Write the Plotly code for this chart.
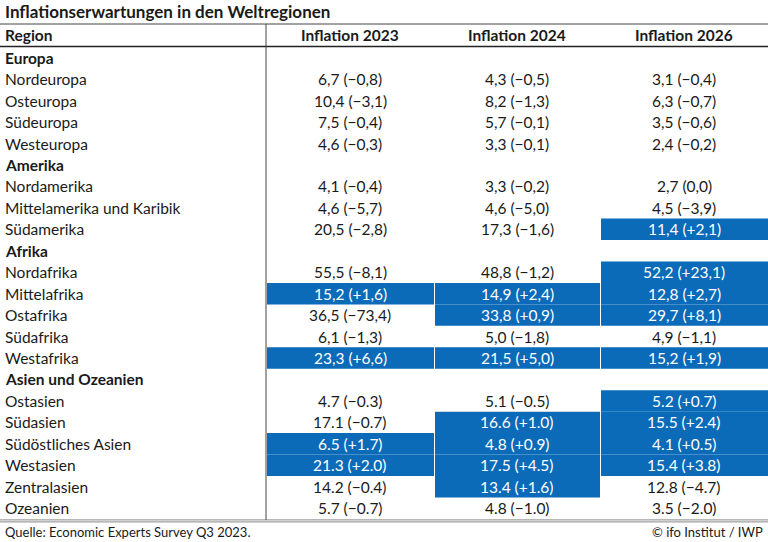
import plotly.graph_objects as go

title = "Inflationserwartungen in den Weltregionen"
header = ["Region", "Inflation 2023", "Inflation 2024", "Inflation 2026"]

regions = ["Europa", "Nordeuropa", "Osteuropa", "Südeuropa", "Westeuropa",
           "Amerika", "Nordamerika", "Mittelamerika und Karibik", "Südamerika",
           "Afrika", "Nordafrika", "Mittelafrika", "Ostafrika", "Südafrika", "Westafrika",
           "Asien und Ozeanien", "Ostasien", "Südasien", "Südöstliches Asien", "Westasien",
           "Zentralasien", "Ozeanien"]
groups = ["Europa", "Amerika", "Afrika", "Asien und Ozeanien"]

inf2023 = ["", "6,7 (−0,8)", "10,4 (−3,1)", "7,5 (−0,4)", "4,6 (−0,3)",
           "", "4,1 (−0,4)", "4,6 (−5,7)", "20,5 (−2,8)",
           "", "55,5 (−8,1)", "15,2 (+1,6)", "36,5 (−73,4)", "6,1 (−1,3)", "23,3 (+6,6)",
           "", "4.7 (−0.3)", "17.1 (−0.7)", "6.5 (+1.7)", "21.3 (+2.0)", "14.2 (−0.4)", "5.7 (−0.7)"]
inf2024 = ["", "4,3 (−0,5)", "8,2 (−1,3)", "5,7 (−0,1)", "3,3 (−0,1)",
           "", "3,3 (−0,2)", "4,6 (−5,0)", "17,3 (−1,6)",
           "", "48,8 (−1,2)", "14,9 (+2,4)", "33,8 (+0,9)", "5,0 (−1,8)", "21,5 (+5,0)",
           "", "5.1 (−0.5)", "16.6 (+1.0)", "4.8 (+0.9)", "17.5 (+4.5)", "13.4 (+1.6)", "4.8 (−1.0)"]
inf2026 = ["", "3,1 (−0,4)", "6,3 (−0,7)", "3,5 (−0,6)", "2,4 (−0,2)",
           "", "2,7 (0,0)", "4,5 (−3,9)", "11,4 (+2,1)",
           "", "52,2 (+23,1)", "12,8 (+2,7)", "29,7 (+8,1)", "4,9 (−1,1)", "15,2 (+1,9)",
           "", "5.2 (+0.7)", "15.5 (+2.4)", "4.1 (+0.5)", "15.4 (+3.8)", "12.8 (−4.7)", "3.5 (−2.0)"]
# highlighted cells (1 = blue)
hl2023 = [0, 0, 0, 0, 0, 0, 0, 0, 0, 0, 0, 1, 0, 0, 1, 0, 0, 0, 1, 1, 0, 0]
hl2024 = [0, 0, 0, 0, 0, 0, 0, 0, 0, 0, 0, 1, 1, 0, 1, 0, 0, 1, 1, 1, 1, 0]
hl2026 = [0, 0, 0, 0, 0, 0, 0, 0, 1, 0, 1, 1, 1, 0, 1, 0, 1, 1, 1, 1, 0, 0]

BLUE = "#0b6bb8"
FONT = "Lato"
TXT = "#1a1a1a"
col_edges = [0, 266, 434, 600, 768]
row_top, row_h = 47, 21.45

shapes, ann = [], []
for c, (vals, hl) in enumerate([(inf2023, hl2023), (inf2024, hl2024), (inf2026, hl2026)], start=1):
    x0, x1 = col_edges[c], col_edges[c + 1]
    xc = (x0 + x1) / 2
    for i, (v, h) in enumerate(zip(vals, hl)):
        y0 = row_top + i * row_h
        if h:
            shapes.append(dict(type="rect", xref="x", yref="y", x0=x0 + 1, x1=x1, y0=y0, y1=y0 + row_h,
                               fillcolor=BLUE, line_width=0, layer="below"))
        if v:
            ann.append(dict(x=xc, y=y0 + row_h / 2, text=v, showarrow=False, xanchor="center",
                            font=dict(family=FONT, size=15.5, color="white" if h else TXT)))
    ann.append(dict(x=xc, y=35, text="<b>%s</b>" % header[c], showarrow=False,
                    font=dict(family=FONT, size=15.5, color=TXT)))

for i, r in enumerate(regions):
    y = row_top + i * row_h + row_h / 2
    t = "<b>%s</b>" % r if r in groups else r
    ann.append(dict(x=3, y=y, text=t, showarrow=False, xanchor="left",
                    font=dict(family=FONT, size=15.5, color=TXT)))
ann.append(dict(x=3, y=35, text="<b>%s</b>" % header[0], showarrow=False, xanchor="left",
                font=dict(family=FONT, size=15.5, color=TXT)))
ann.append(dict(x=3, y=11, text="<b>%s</b>" % title, showarrow=False, xanchor="left",
                font=dict(family=FONT, size=17, color=TXT)))
ann.append(dict(x=3, y=532, text="Quelle: Economic Experts Survey Q3 2023.", showarrow=False,
                xanchor="left", font=dict(family=FONT, size=13, color=TXT)))
ann.append(dict(x=765, y=532, text="© ifo Institut / IWP", showarrow=False,
                xanchor="right", font=dict(family=FONT, size=13, color=TXT)))

bottom = row_top + len(regions) * row_h
shapes += [
    dict(type="line", xref="x", yref="y", x0=0, x1=768, y0=24, y1=24, line=dict(color="#444", width=1)),
    dict(type="line", xref="x", yref="y", x0=0, x1=768, y0=46.5, y1=46.5, line=dict(color="#222", width=1.5)),
    dict(type="line", xref="x", yref="y", x0=0, x1=768, y0=bottom + 1, y1=bottom + 1, line=dict(color="#888", width=1)),
    dict(type="line", xref="x", yref="y", x0=0, x1=768, y0=bottom + 3, y1=bottom + 3, line=dict(color="#888", width=1)),
    dict(type="line", xref="x", yref="y", x0=266, x1=266, y0=24, y1=bottom + 1, line=dict(color="#444", width=1)),
]

fig = go.Figure()
fig.update_layout(
    width=768, height=542, margin=dict(l=0, r=0, t=0, b=0),
    paper_bgcolor="white", plot_bgcolor="white",
    xaxis=dict(range=[0, 768], visible=False, fixedrange=True),
    yaxis=dict(range=[542, 0], visible=False, fixedrange=True),
    shapes=shapes, annotations=ann, showlegend=False,
)
fig.write_html("out.html", config={"displayModeBar": False},
               post_script="document.body.style.margin='0';")
